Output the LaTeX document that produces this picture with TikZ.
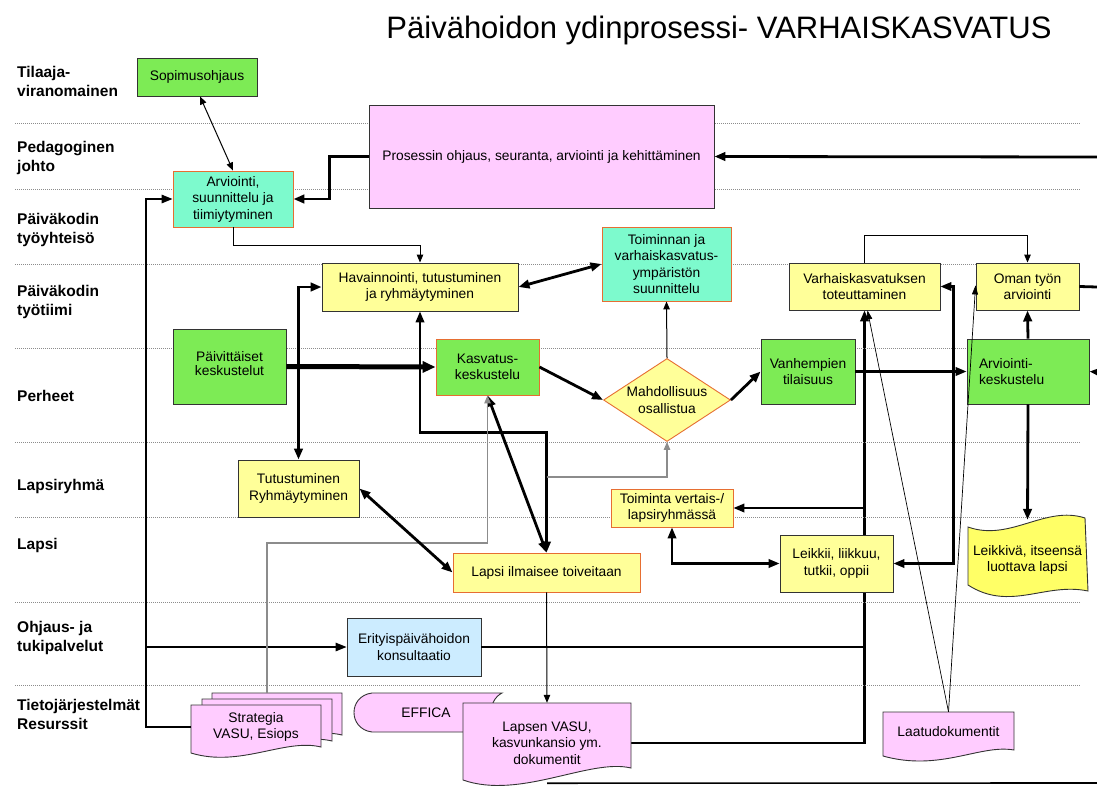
\documentclass[tikz,border=0pt]{standalone}
\usepackage{fontspec}
\setmainfont{Liberation Sans}
\usetikzlibrary{arrows.meta,shapes.geometric,calc}
\definecolor{cgreen}{RGB}{125,235,85}
\definecolor{cteal}{RGB}{125,250,205}
\definecolor{cyellow}{RGB}{255,255,153}
\definecolor{cyellowb}{RGB}{255,255,102}
\definecolor{cpink}{RGB}{255,204,255}
\definecolor{cblue}{RGB}{204,236,255}
\definecolor{corange}{RGB}{230,110,50}
\newcommand{\bxf}{\fontsize{13.8}{16.5}\selectfont}
\newcommand{\lblf}{\bfseries\fontsize{15.5}{19}\selectfont}
\pgfdeclarelayer{bg}
\pgfsetlayers{bg,main}
\begin{document}
\begin{tikzpicture}[x=1pt,y=-1pt,
  >={Triangle[length=11pt,width=8.5pt]},
  box/.style={draw=black!80, line width=0.9pt, inner sep=0pt, align=center, font=\bxf},
  gbox/.style={box, fill=cgreen},
  tbox/.style={box, fill=cteal, draw=corange},
  ybox/.style={box, fill=cyellow},
  yobox/.style={box, fill=cyellow, draw=corange},
  anchorbox/.style={inner sep=0pt, align=center, font=\bxf},
  docshape/.style={draw=black!80, line width=0.9pt, fill=cpink},
  lane/.style={draw=black!45, line width=0.7pt, dash pattern=on 1.2pt off 0.8pt},
  lbl/.style={anchor=west, align=left, font=\lblf, inner sep=0pt},
  c1/.style={line width=1pt, >={Triangle[length=8pt,width=6.5pt]}},
  c2/.style={line width=2.2pt},
  c3/.style={line width=2.8pt},
  c4/.style={line width=5pt, >={Triangle[length=13pt,width=11pt]}},
  cthin/.style={line width=0.7pt, >={Triangle[length=9pt,width=6pt]}},
  gline/.style={draw=black!45, line width=1.1pt, >={Triangle[length=8pt,width=6.5pt]}}
]
\useasboundingbox (0,0) rectangle (1097,787);
\begin{pgfonlayer}{bg}
\fill[white] (0,0) rectangle (1097,787);
\end{pgfonlayer}

% lanes
\foreach \yy in {123,189,264,348,442,517,602,685} \draw[lane] (15,\yy) -- (1080,\yy);

% title
\node[font=\fontsize{31}{34}\selectfont, inner sep=0pt] (title) at (719,30) {Päivähoidon ydinprosessi- VARHAISKASVATUS};

% lane labels
\node[lbl] (l1) at (17,81) {Tilaaja-\\viranomainen};
\node[lbl] (l2) at (17,158) {Pedagoginen\\johto};
\node[lbl] (l3) at (17,230) {Päiväkodin\\työyhteisö};
\node[lbl] (l4) at (17,302) {Päiväkodin\\työtiimi};
\node[lbl] (l5) at (17,396) {Perheet};
\node[lbl] (l6) at (17,486) {Lapsiryhmä};
\node[lbl] (l7) at (17,545) {Lapsi};
\node[lbl] (l8) at (17,638) {Ohjaus- ja\\tukipalvelut};
\node[lbl] (l9) at (17,714) {Tietojärjestelmät\\Resurssit};

% document shapes
\draw[docshape] (212,693) -- (342,693) -- (342,735) .. controls (306,726) and (261,756) .. (212,741) -- cycle;
\draw[docshape] (202,699) -- (332,699) -- (332,741) .. controls (296,732) and (251,762) .. (202,747) -- cycle;
\draw[docshape] (191,705) -- (321,705) -- (321,747) .. controls (285,738) and (240,768) .. (191,753) -- cycle;
\draw[docshape] (372,693) -- (502,693) .. controls (488,700) and (486,725) .. (502,732) -- (372,732) .. controls (348,729) and (348,696) .. (372,693) -- cycle;
\draw[docshape] (463,703) -- (631,703) -- (631,768) .. controls (590,758) and (520,800) .. (463,780) -- cycle;
\draw[docshape] (883,712) -- (1014,712) -- (1014,750) .. controls (980,744) and (940,772) .. (883,756) -- cycle;
\draw[draw=black!80, line width=0.9pt, fill=cyellowb] (968,527) .. controls (1010,542) and (1045,505) .. (1085,518) -- (1088,591) .. controls (1045,582) and (1010,612) .. (968,585) -- cycle;

% nodes
\node[gbox, minimum width=120, minimum height=38] (sopim) at (197,77) {Sopimusohjaus};
\node[tbox, minimum width=120, minimum height=56] (arv) at (233,199) {Arviointi,\\suunnittelu ja\\tiimiytyminen};
\node[box, fill=cpink, minimum width=345, minimum height=103] (pros) at (541.5,156.5) {Prosessin ohjaus, seuranta, arviointi ja kehittäminen};
\node[ybox, minimum width=196, minimum height=48] (hav) at (420,287) {Havainnointi, tutustuminen\\ja ryhmäytyminen};
\node[tbox, minimum width=129, minimum height=74] (toim) at (666.5,264) {Toiminnan ja\\varhaiskasvatus-\\ympäristön\\suunnittelu};
\node[ybox, minimum width=151, minimum height=47] (vtot) at (864.5,286.5) {Varhaiskasvatuksen\\toteuttaminen};
\node[ybox, minimum width=103, minimum height=47] (oman) at (1027.5,286.5) {Oman työn\\arviointi};
\node[gbox, minimum width=113, minimum height=75] (paiv) at (229.5,366.5) {\raisebox{6pt}{\shortstack{Päivittäiset\\keskustelut}}};
\node[gbox, draw=corange, minimum width=103, minimum height=56] (kasv) at (487.5,367) {Kasvatus-\\keskustelu};
\node[box, diamond, aspect=1.53, fill=cyellow, draw=corange, minimum width=127, minimum height=83] (mahd) at (667,400) {Mahdollisuus\\osallistua};
\node[gbox, minimum width=94, minimum height=65] (vanh) at (808,371.5) {Vanhempien\\tilaisuus};
\node[gbox, minimum width=122, minimum height=65, text width=98, align=left] (arvk) at (1028,371.5) {Arviointi-\\keskustelu};
\node[ybox, minimum width=121, minimum height=57] (tutu) at (298.5,488.5) {Tutustuminen\\Ryhmäytyminen};
\node[yobox, minimum width=122, minimum height=38] (tvert) at (672,508) {Toiminta vertais-/\\lapsiryhmässä};
\node[yobox, minimum width=187, minimum height=39] (lapsi) at (546.5,572.5) {Lapsi ilmaisee toiveitaan};
\node[ybox, minimum width=113, minimum height=57] (leik) at (836.5,563.5) {Leikkii, liikkuu,\\tutkii, oppii};
\node[box, fill=cblue, minimum width=134, minimum height=58] (erit) at (414,647) {Erityispäivähoidon\\konsultaatio};
\node[anchorbox, minimum width=130, minimum height=52] (strat) at (256,727) {Strategia\\VASU, Esiops};
\node[anchorbox, minimum width=147, minimum height=39] (effica) at (426,712.5) {EFFICA};
\node[anchorbox, minimum width=168, minimum height=80] (lvasu) at (547,743) {Lapsen VASU,\\kasvunkansio ym.\\dokumentit};
\node[anchorbox, minimum width=131, minimum height=40] (laatu) at (948.5,732) {Laatudokumentit};
\node[anchorbox, minimum width=121, minimum height=80] (leikv) at (1027.5,560) {Leikkivä, itseensä\\luottava lapsi};

% free ends / helper coordinates
\coordinate (rin) at (1097,157);
\coordinate (busT) at (146,199);
\coordinate (g477) at (0,477);
\coordinate (g543) at (0,543);
\coordinate (stratTop) at (267,693);
\coordinate (rout) at (1097,287);
\coordinate (rin2) at (1097,372);
\coordinate (rbot) at (1097,783);

% connectors
\draw[c1,<->] ([xshift=3pt]sopim.south) -- (arv.north);
\draw[c3,->] (pros.west) -- ++(-39,0) |- (arv.east);
\draw[c3,->] (rin) -- (pros.east);
\draw[c1,->] (arv.south) -- ++(0,18) -| (hav.north);
\draw[line width=1.4pt,->] (strat.west) -| (busT) -- (arv.west);
\draw[line width=1.4pt,->] (busT |- erit.west) -- (erit.west);
\draw[c3,<->] (hav.west) -| (tutu.north);
\draw[c4,->] (paiv.east) -- (kasv.west);
\draw[c3,<->] (hav.east) -- (toim.west);
\draw[c2,<->] (hav.south) -- ++(0,121) -| (lapsi.north);
\draw[c3,<->] (kasv.south) -- (lapsi.north);
\draw[gline,->] (stratTop) -- (stratTop |- g543) -| (kasv.south);
\draw[gline,->] (lapsi.north |- g477) -| (mahd.south);
\draw[c3,->] (kasv.east) -- (mahd.west);
\draw[c1,->] (mahd.north) -- (toim.south);
\draw[c3,->] (mahd.east) -- (vanh.west);
\draw[c3,<->] (tutu.east) -- (lapsi.west);
\draw[c1,->] (lapsi.south) -- (lvasu.north);
\draw[c2,<->] (tvert.south) |- (leik.west);
\begin{pgfonlayer}{bg}
\draw[c2,->] (lvasu.east) -| (vtot.south);
\end{pgfonlayer}
\draw[c2,->] (vtot.south |- tvert.east) -- (tvert.east);
\draw[line width=1.4pt] (erit.east) -- (vtot.south |- erit.east);
\draw[cthin,->] (laatu.north) -- ([xshift=3pt]vtot.south);
\draw[cthin,->] (laatu.north) -- ([yshift=25pt]oman.south west);
\draw[c2,<->] (leik.east) -- ++(60,0) |- (vtot.east);
\draw[c1,->] (vtot.north) -- ++(0,-27) -| (oman.north);
\draw[c2,->] (vanh.east) -- (arvk.west);
\draw[c3,->] (arvk.north) -- (oman.south);
\draw[c3,->] (arvk.south) -- (leikv.north);
\draw[c3] (oman.east) -- (rout);
\draw[c3,->] (rin2) -- (arvk.east);
\draw[line width=1.6pt] (lvasu.south) -- (rbot);
\end{tikzpicture}
\end{document}
